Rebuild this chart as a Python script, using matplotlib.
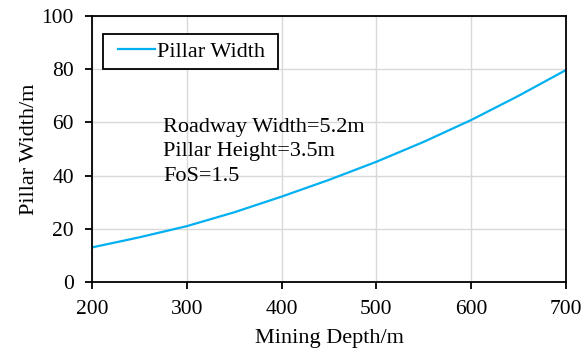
import matplotlib
matplotlib.use("Agg")
import matplotlib.pyplot as plt
from matplotlib.legend_handler import HandlerLine2D

depth = [200, 250, 300, 350, 400, 450, 500, 550, 600, 650, 700]
pillar_width = [13.0, 16.8, 21.0, 26.2, 32.1, 38.4, 45.2, 52.7, 60.9, 70.0, 79.7]
x_ticks = [200, 300, 400, 500, 600, 700]
y_ticks = [0, 20, 40, 60, 80, 100]
notes = ["Roadway Width=5.2m", "Pillar Height=3.5m", "FoS=1.5"]

plt.rcParams['font.family'] = ['Liberation Serif', 'DejaVu Serif']
plt.rcParams['font.size'] = 16

fig = plt.figure(figsize=(5.82, 3.5), dpi=100)
ax = fig.add_axes([92/582, (350-282)/350, 474/582, 266/350])

line, = ax.plot(depth, pillar_width, color='#00B0F0', lw=1.6, label='Pillar Width ')
ax.set_xlim(200, 700)
ax.set_ylim(0, 100)
ax.set_xticks(x_ticks)
ax.set_yticks(y_ticks)
ax.grid(True, color='#d9d9d9', lw=1)
ax.set_axisbelow(True)
for s in ax.spines.values():
    s.set_linewidth(1.3)
ax.tick_params(direction='out', length=5, width=1.3, labelsize=15.5)
ax.tick_params(axis='x', pad=8)
ax.tick_params(axis='y', pad=8)
ax.set_xlabel('Mining Depth/m', fontsize=16, labelpad=7)
ax.set_ylabel('Pillar Width/m', fontsize=16, labelpad=2)

leg = ax.legend(loc='upper left', bbox_to_anchor=(0.023, 0.932), fancybox=False,
                edgecolor='black', framealpha=1, handlelength=2.0, handletextpad=0.1,
                borderpad=0.33, fontsize=16, borderaxespad=0,
                handler_map={line: HandlerLine2D(xpad=0.35)})
leg.get_frame().set_linewidth(1.3)

for note, yb in zip(notes, [56.5, 47.3, 38.0]):
    ax.text(275, yb, note, fontsize=16, va='baseline', ha='left')

fig.savefig('out.png', dpi=100)
